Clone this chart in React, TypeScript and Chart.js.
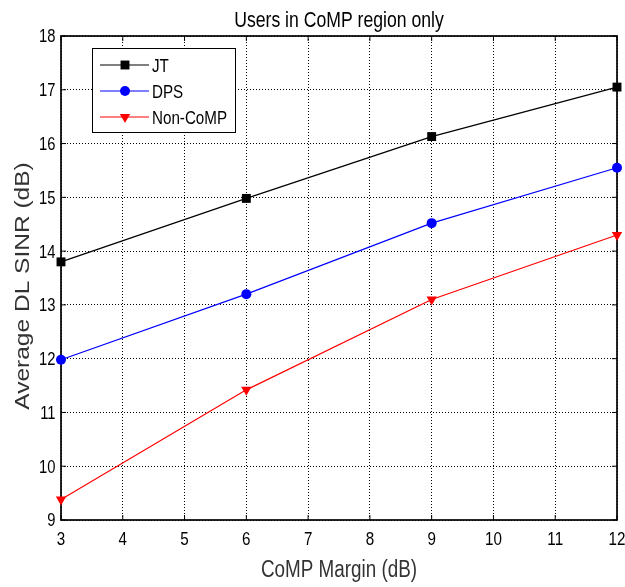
import React, { useEffect, useRef } from "react";
import { Chart, registerables } from "chart.js";
Chart.register(...registerables);

const margins = [3, 6, 9, 12];
const jtValues = [13.8, 14.98, 16.13, 17.05];
const dpsValues = [11.98, 13.2, 14.52, 15.55];
const nonCompValues = [9.38, 11.42, 13.1, 14.3];
const seriesNames = ["JT", "DPS", "Non-CoMP"];
const xTickLabels = ["3", "4", "5", "6", "7", "8", "9", "10", "11", "12"];
const yTickLabels = ["9", "10", "11", "12", "13", "14", "15", "16", "17", "18"];
const chartTitle = "Users in CoMP region only";
const xTitle = "CoMP Margin (dB)";
const yTitle = "Average DL SINR (dB)";
const xMin = 3, xMax = 12, yMin = 9, yMax = 18;

const FONT = "'Liberation Sans', Arial, sans-serif";
const SQ = 0.82;

const seriesStyles = [
  { color: "#000000", pointStyle: "rect", radius: 6.3, rotation: 0 },
  { color: "#0000ff", pointStyle: "circle", radius: 5, rotation: 0 },
  { color: "#ff0000", pointStyle: "triangle", radius: 6, rotation: 180 },
];

function squeezedText(ctx: CanvasRenderingContext2D, text: string, x: number, y: number, size: number, align: CanvasTextAlign, color: string) {
  ctx.save();
  ctx.translate(x, y);
  ctx.scale(SQ, 1);
  ctx.font = `${size}px ${FONT}`;
  ctx.fillStyle = color;
  ctx.textAlign = align;
  ctx.textBaseline = "alphabetic";
  ctx.fillText(text, 0, 0);
  ctx.restore();
}

function drawMarker(ctx: CanvasRenderingContext2D, st: any, x: number, y: number) {
  ctx.save();
  ctx.fillStyle = st.color;
  ctx.beginPath();
  if (st.pointStyle === "rect") {
    const s = st.radius * Math.SQRT1_2;
    ctx.rect(x - s, y - s, 2 * s, 2 * s);
  } else if (st.pointStyle === "circle") {
    ctx.arc(x, y, st.radius, 0, Math.PI * 2);
  } else {
    const r = st.radius;
    ctx.moveTo(x - r * Math.sin(Math.PI / 3), y - r * 0.5);
    ctx.lineTo(x + r * Math.sin(Math.PI / 3), y - r * 0.5);
    ctx.lineTo(x, y + r);
    ctx.closePath();
  }
  ctx.fill();
  ctx.restore();
}

const framePlugin = {
  id: "matlabFrame",
  beforeDatasetsDraw(chart: any) {
    const { ctx, chartArea: a, scales } = chart;
    ctx.save();
    ctx.strokeStyle = "#000";
    ctx.lineWidth = 1;
    const tl = 5;
    ctx.beginPath();
    for (let v = xMin; v <= xMax; v++) {
      const x = scales.x.getPixelForValue(v);
      ctx.moveTo(x, a.bottom); ctx.lineTo(x, a.bottom - tl);
      ctx.moveTo(x, a.top); ctx.lineTo(x, a.top + tl);
    }
    for (let v = yMin; v <= yMax; v++) {
      const y = scales.y.getPixelForValue(v);
      ctx.moveTo(a.left, y); ctx.lineTo(a.left + tl, y);
      ctx.moveTo(a.right, y); ctx.lineTo(a.right - tl, y);
    }
    ctx.stroke();
    ctx.lineWidth = 1.7;
    ctx.strokeRect(a.left, a.top, a.right - a.left, a.bottom - a.top);
    ctx.restore();
  },
  afterDraw(chart: any) {
    const { ctx, chartArea: a, scales } = chart;
    ctx.save();
    // tick labels
    xTickLabels.forEach((t) => {
      const x = scales.x.getPixelForValue(Number(t));
      squeezedText(ctx, t, x, 545, 18.5, "center", "#000");
    });
    yTickLabels.forEach((t) => {
      const y = scales.y.getPixelForValue(Number(t));
      squeezedText(ctx, t, 55.5, y + 6.4, 18, "right", "#000");
    });
    // title
    squeezedText(ctx, chartTitle, (a.left + a.right) / 2, 27.3, 21.5, "center", "#000");
    // x axis title
    squeezedText(ctx, xTitle, (a.left + a.right) / 2, 577.3, 23, "center", "#333");
    // y axis title (squeezed in glyph height, i.e. screen x)
    ctx.save();
    ctx.translate(28.6, 286);
    ctx.rotate(-Math.PI / 2);
    ctx.scale(1, SQ);
    ctx.font = `24.5px ${FONT}`;
    ctx.fillStyle = "#333";
    ctx.textAlign = "center";
    ctx.textBaseline = "alphabetic";
    ctx.fillText(yTitle, 0, 0);
    ctx.restore();
    // legend
    const bx = 92, by = 48, bw = 143, bh = 84;
    ctx.fillStyle = "#fff";
    ctx.fillRect(bx, by, bw, bh);
    ctx.strokeStyle = "#000";
    ctx.lineWidth = 1;
    ctx.strokeRect(bx + 0.5, by + 0.5, bw, bh);
    const rows = [65, 91, 117];
    seriesNames.forEach((name, i) => {
      const st = seriesStyles[i];
      const y = rows[i];
      ctx.strokeStyle = st.color;
      ctx.lineWidth = 1;
      ctx.beginPath();
      ctx.moveTo(100, y);
      ctx.lineTo(149, y);
      ctx.stroke();
      drawMarker(ctx, st, 125, y);
      squeezedText(ctx, name, 152, y + 7, 18.5, "left", "#000");
    });
    ctx.restore();
  },
};

export default function App() {
  const ref = useRef<HTMLCanvasElement | null>(null);
  useEffect(() => {
    if (!ref.current) return;
    const allSeries = [jtValues, dpsValues, nonCompValues];
    const chart = new Chart(ref.current, {
      type: "line",
      data: {
        datasets: allSeries.map((vals, i) => ({
          label: seriesNames[i],
          data: margins.map((m, j) => ({ x: m, y: vals[j] })),
          borderColor: seriesStyles[i].color,
          backgroundColor: seriesStyles[i].color,
          borderWidth: 1.2,
          pointStyle: seriesStyles[i].pointStyle as any,
          pointRadius: seriesStyles[i].radius,
          pointRotation: seriesStyles[i].rotation,
          pointBorderWidth: 0,
          pointBackgroundColor: seriesStyles[i].color,
          tension: 0,
          clip: false as any,
        })),
      },
      options: {
        animation: false,
        responsive: false,
        devicePixelRatio: 1,
        layout: { padding: { top: 36, right: 8, left: 0, bottom: 0 } },
        plugins: { legend: { display: false }, title: { display: false }, tooltip: { enabled: false } },
        scales: {
          x: {
            type: "linear",
            min: xMin,
            max: xMax,
            afterFit(s: any) { s.height = 67; s.paddingLeft = 0; s.paddingRight = 0; },
            ticks: { stepSize: 1, display: false, autoSkip: false },
            grid: { color: "#000", lineWidth: 1, drawTicks: false },
            border: { display: false, dash: [1, 2] },
          },
          y: {
            type: "linear",
            min: yMin,
            max: yMax,
            afterFit(s: any) { s.width = 61; s.paddingTop = 0; s.paddingBottom = 0; },
            ticks: { stepSize: 1, display: false },
            grid: { color: "#000", lineWidth: 1, drawTicks: false },
            border: { display: false, dash: [1, 2] },
          },
        },
      },
      plugins: [framePlugin],
    });
    return () => chart.destroy();
  }, []);
  return (
    <div style={{ position: "absolute", left: 0, top: 0, width: 625, height: 587, background: "#fff" }}>
      <canvas ref={ref} width={625} height={587} style={{ width: 625, height: 587 }} />
    </div>
  );
}
